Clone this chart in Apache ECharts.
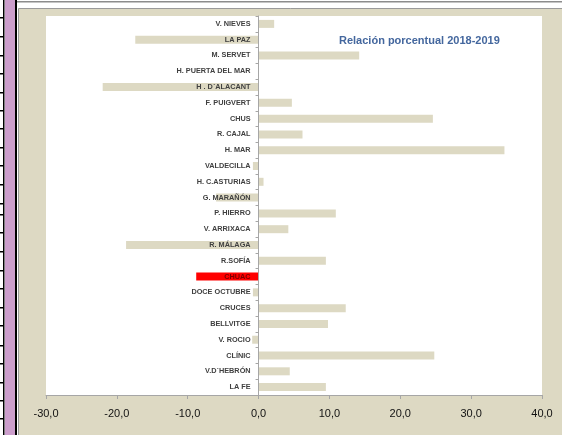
<!DOCTYPE html>
<html>
<head>
<meta charset="utf-8">
<script src="https://cdn.jsdelivr.net/npm/echarts@6/dist/echarts.min.js"></script>
<style>
html,body{margin:0;padding:0;background:#ffffff;}
#chart{width:562px;height:435px;}
</style>
</head>
<body>
<div id="chart"></div>
<script>
// Data (top to bottom as shown)
var categories = ["V. NIEVES","LA PAZ","M. SERVET","H. PUERTA DEL MAR","H . D´ALACANT","F. PUIGVERT","CHUS","R. CAJAL","H. MAR","VALDECILLA","H. C.ASTURIAS","G. MARAÑÓN","P. HIERRO","V. ARRIXACA","R. MÁLAGA","R.SOFÍA","CHUAC","DOCE OCTUBRE","CRUCES","BELLVITGE","V. ROCIO","CLÍNIC","V.D´HEBRÓN","LA FE"];
var values = [2.2,-17.4,14.2,0.0,-22.0,4.7,24.6,6.2,34.7,-0.8,0.7,-6.0,10.9,4.2,-18.7,9.5,-8.8,-0.8,12.3,9.8,-0.9,24.8,4.4,9.5];
var highlight = "CHUAC";
var title = "Relación porcentual 2018-2019";
var xMin = -30, xMax = 40, xStep = 10;

var chart = echarts.init(document.getElementById('chart'), null, {renderer:'canvas'});

var seriesData = values.map(function(v, i){
  if (categories[i] === highlight) return {value: v, itemStyle: {color: '#ff0000'}};
  return v;
});

var gridLeft = 46, gridRight = 20;
var plotW = 562 - gridLeft - gridRight;
var zeroOffset = (0 - xMin) / (xMax - xMin) * plotW;

// decorative spreadsheet lines at the far left
var sheetLines = [];
var ys = [17,36,55,73,92,110,128,147,165,184,203,214,232,251,270,288,307,325,345,363,382,400,418];
ys.forEach(function(y){
  sheetLines.push({type:'rect', shape:{x:0,y:y,width:4,height:1.5}, style:{fill:'#000'}, silent:true});
});

var option = {
  backgroundColor: '#ffffff',
  animation: false,
  graphic: [
    {type:'rect', shape:{x:3,y:0,width:1.5,height:435}, style:{fill:'#000'}, z:-1},
    {type:'rect', shape:{x:5,y:0,width:10,height:435}, style:{fill:'#cc9ecc'}, z:-1},
    {type:'rect', shape:{x:15,y:0,width:2,height:435}, style:{fill:'#000'}, z:-1},
    {type:'rect', shape:{x:17,y:1,width:545,height:1.5}, style:{fill:'#8c8c8c'}, z:-1},
    {type:'rect', shape:{x:18.5,y:8.5,width:545,height:430}, style:{fill:'#ddd9c3', stroke:'#9a9a9a', lineWidth:1}, z:-1}
  ].concat(sheetLines),
  title: {
    text: title,
    left: 334,
    top: 30,
    textStyle: {fontFamily:'Liberation Sans', fontSize:11, fontWeight:'bold', color:'#44679e'}
  },
  grid: {
    left: gridLeft, right: gridRight, top: 16, bottom: 40,
    containLabel: false,
    outerBoundsMode: 'none',
    show: true, backgroundColor: '#ffffff', borderWidth: 0
  },
  xAxis: {
    type: 'value',
    min: xMin, max: xMax, interval: xStep,
    splitLine: {show:false},
    axisLine: {show:true, lineStyle:{color:'#a6a6a6'}},
    axisTick: {show:true, length:4, lineStyle:{color:'#a6a6a6'}},
    axisLabel: {
      fontFamily:'Liberation Sans', fontSize:11, color:'#111111', margin:13,
      formatter: function(v){ return v.toFixed(1).replace('.', ','); }
    }
  },
  yAxis: {
    type: 'category',
    data: categories,
    inverse: true,
    position: 'left',
    offset: -zeroOffset,
    z: 10,
    axisLine: {show:true, onZero:false, lineStyle:{color:'#a6a6a6'}},
    axisTick: {show:true, length:3, lineStyle:{color:'#a6a6a6'}},
    splitLine: {show:false},
    axisLabel: {
      fontFamily:'Liberation Sans', fontSize:7.3, fontWeight:'bold', color:'#404040', margin:8,
      formatter: function(v){ return v === highlight ? '{hl|' + v + '}' : v; },
      rich: {hl: {fontFamily:'Liberation Sans', fontSize:7.3, fontWeight:'bold', color:'#7a0000'}}
    }
  },
  series: [{
    type: 'bar',
    data: seriesData,
    barWidth: 8,
    itemStyle: {color: '#ddd9c3'}
  }]
};
chart.setOption(option);
</script>
</body>
</html>
